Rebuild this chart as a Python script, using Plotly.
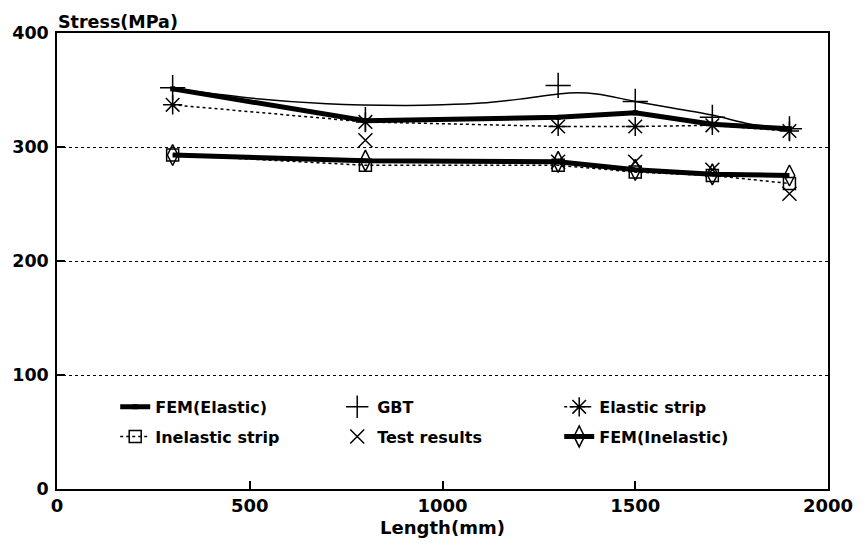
import plotly.graph_objects as go

# ---- data ----
lengths = [300, 800, 1300, 1500, 1700, 1900]
fem_elastic = [351, 323, 326, 330, 320, 316]
gbt_points = [352, 324, 354, 340, 326, 316]
elastic_strip = [337, 322, 318, 318, 319, 314]
inelastic_strip = [293, 284, 284, 278, 275, 268]
fem_inelastic = [293, 288, 287, 280, 276, 275]
test_lengths = [800, 1300, 1500, 1700, 1900]
test_results = [306, 287, 287, 280, 259]

gbt_curve_len = [300, 500, 700, 900, 1000, 1100, 1200, 1300, 1350, 1400, 1500, 1600, 1700, 1800, 1900]
gbt_curve_val = [351.5, 343, 338, 336.5, 337, 338.5, 342, 346.5, 347.5, 346.5, 340, 334, 328, 320, 316]

x_ticks = [0, 500, 1000, 1500, 2000]
y_ticks = [0, 100, 200, 300, 400]

FONT = "DejaVu Sans"
BLACK = "#000000"

fig = go.Figure()

# GBT curve (thin line, no legend)
fig.add_trace(go.Scatter(x=gbt_curve_len, y=gbt_curve_val, mode="lines",
                         line=dict(color=BLACK, width=1.5, shape="spline"),
                         showlegend=False, hoverinfo="skip"))

# Row 1 legend items
fig.add_trace(go.Scatter(x=lengths, y=fem_elastic, mode="lines+markers", name="FEM(Elastic)",
                         line=dict(color=BLACK, width=5),
                         marker=dict(symbol="square", size=5, color=BLACK),
                         legend="legend"))
fig.add_trace(go.Scatter(x=lengths, y=gbt_points, mode="markers", name="GBT",
                         marker=dict(symbol="cross-thin-open", size=18, color=BLACK,
                                     line=dict(color=BLACK, width=1.5)),
                         legend="legend"))
fig.add_trace(go.Scatter(x=lengths, y=elastic_strip, mode="lines+markers", name="Elastic strip",
                         line=dict(color=BLACK, width=1.5, dash="dot"),
                         marker=dict(symbol="asterisk-open", size=16, color=BLACK,
                                     line=dict(color=BLACK, width=1.5)),
                         legend="legend"))

# Row 2 legend items
fig.add_trace(go.Scatter(x=lengths, y=inelastic_strip, mode="lines+markers", name="Inelastic strip",
                         line=dict(color=BLACK, width=1.5, dash="dot"),
                         marker=dict(symbol="square-open", size=12, color=BLACK,
                                     line=dict(color=BLACK, width=1.5)),
                         legend="legend2"))
fig.add_trace(go.Scatter(x=test_lengths, y=test_results, mode="markers", name="Test results",
                         marker=dict(symbol="x-thin-open", size=14, color=BLACK,
                                     line=dict(color=BLACK, width=1.5)),
                         legend="legend2"))
fig.add_trace(go.Scatter(x=lengths, y=fem_inelastic, mode="lines+markers", name="FEM(Inelastic)",
                         line=dict(color=BLACK, width=5),
                         marker=dict(symbol="diamond-tall-open", size=15, color=BLACK,
                                     line=dict(color=BLACK, width=1.5)),
                         legend="legend2"))

legend_common = dict(orientation="h", xanchor="left", yanchor="middle",
                     entrywidth=177, entrywidthmode="pixels",
                     font=dict(family=FONT, size=16, color=BLACK, weight="bold"),
                     bgcolor="rgba(0,0,0,0)", borderwidth=0, traceorder="normal")

# the page body adds an 8px offset, so the figure is sized to fit the window
fig.update_layout(
    width=857, height=544,
    margin=dict(l=49, r=37, t=25, b=63),
    paper_bgcolor="white", plot_bgcolor="white",
    font=dict(family=FONT, size=18, color=BLACK, weight="bold"),
    legend=dict(x=0.0755, y=0.18, **legend_common),
    legend2=dict(x=0.0755, y=0.115, **legend_common),
    xaxis=dict(range=[0, 2000], tickvals=x_ticks, ticktext=[str(v) for v in x_ticks],
               automargin=False,
               showgrid=False, zeroline=False, showline=True, linecolor=BLACK, linewidth=1.5,
               mirror=True, ticks="inside", ticklen=8, tickwidth=1.5, tickcolor=BLACK,
               tickfont=dict(family=FONT, size=18, color=BLACK, weight="bold"),
               title=dict(text="Length(mm)", standoff=6,
                          font=dict(family=FONT, size=18, color=BLACK, weight="bold"))),
    yaxis=dict(range=[0, 400], tickvals=y_ticks, ticktext=[str(v) for v in y_ticks],
               automargin=False,
               showgrid=True, gridcolor=BLACK, gridwidth=1, griddash="dot",
               zeroline=False, showline=True, linecolor=BLACK, linewidth=1.5,
               mirror=True, ticks="inside", ticklen=8, tickwidth=1.5, tickcolor=BLACK,
               ticklabelstandoff=3,
               tickfont=dict(family=FONT, size=17.5, color=BLACK, weight="bold")),
    annotations=[dict(text="Stress(MPa)", xref="paper", yref="paper", x=0, y=1.0,
                      xanchor="left", yanchor="bottom", showarrow=False, borderpad=0,
                      font=dict(family=FONT, size=17.5, color=BLACK, weight="bold"))],
)

fig.write_html("out.html")
